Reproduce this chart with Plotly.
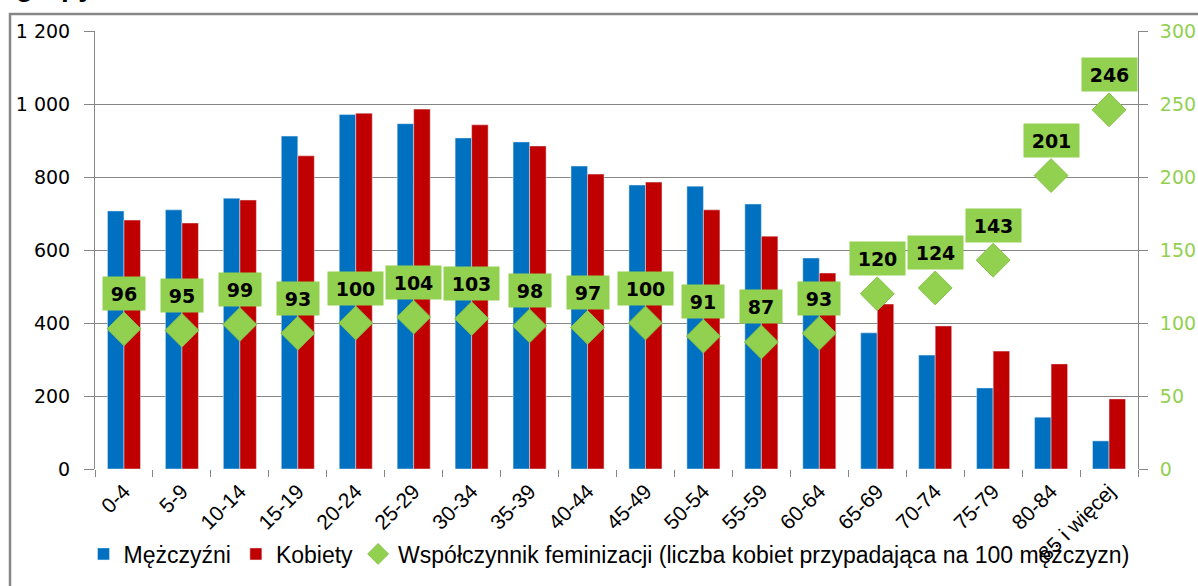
import plotly.graph_objects as go

# grupy wieku
grupy = ["0-4", "5-9", "10-14", "15-19", "20-24", "25-29", "30-34", "35-39", "40-44",
         "45-49", "50-54", "55-59", "60-64", "65-69", "70-74", "75-79", "80-84", "85 i więcej"]

# liczba ludności (oś lewa)
mezczyzni = [707, 710, 742, 912, 971, 946, 907, 896, 830, 778, 775, 726, 578, 373, 312, 222, 142, 77]
kobiety = [682, 674, 737, 858, 975, 986, 943, 885, 808, 786, 710, 638, 537, 452, 392, 323, 288, 192]

# współczynnik feminizacji (oś prawa)
feminizacja = [96, 95, 99, 93, 100, 104, 103, 98, 97, 100, 91, 87, 93, 120, 124, 143, 201, 246]

NIEBIESKI = "#0070C0"
CZERWONY = "#C00000"
ZIELONY = "#92D050"
SZARY = "#868686"
FONT_OSI = "DejaVu Sans"
FONT_TXT = "Liberation Sans"

fig = go.Figure()

fig.add_trace(go.Bar(x=grupy, y=mezczyzni, name="Mężczyźni", marker=dict(color=NIEBIESKI)))
fig.add_trace(go.Bar(x=grupy, y=kobiety, name="Kobiety", marker=dict(color=CZERWONY)))
fig.add_trace(go.Scatter(
    x=grupy, y=feminizacja, yaxis="y2", mode="markers",
    name="Współczynnik feminizacji (liczba kobiet przypadająca na 100 mężczyzn)",
    marker=dict(symbol="diamond", size=26, color=ZIELONY, line=dict(color="#86C246", width=1)),
))

# etykiety w zielonych ramkach nad punktami
for g, v in zip(grupy, feminizacja):
    tekst = str(v)
    fig.add_annotation(
        x=g, y=v, xref="x", yref="y2", text="<b>%s</b>" % tekst, showarrow=False,
        yshift=35, bgcolor=ZIELONY, borderpad=0, width=13 * len(tekst) + 16, height=33,
        font=dict(family=FONT_OSI, size=19, color="black"),
    )

# ucięty tytuł u góry (widoczne tylko dolne końcówki liter)
fig.add_annotation(
    x=(14 - 95) / 1043, y=(469 - 4) / 438, xref="paper", yref="paper",
    xanchor="left", yanchor="bottom", showarrow=False, text="<b>grupy wieku</b>",
    font=dict(family="Liberation Sans", size=28, color="black"),
)

# ramka wykresu (częściowo poza kadrem)
fig.add_shape(
    type="rect", xref="paper", yref="paper",
    x0=(10 - 95) / 1043, x1=1.5, y0=-1.0, y1=(469 - 14) / 438,
    line=dict(color=SZARY, width=2.5), fillcolor="rgba(0,0,0,0)", layer="below",
)

fig.update_layout(
    width=1198, height=586,
    margin=dict(l=95, r=60, t=31, b=117, autoexpand=False),
    plot_bgcolor="white", paper_bgcolor="white",
    barmode="group", bargap=0.43, bargroupgap=0,
    showlegend=True,
    legend=dict(
        orientation="h", x=-0.011, y=-0.194, xanchor="left", yanchor="middle",
        font=dict(family=FONT_TXT, size=23, color="black"),
        itemwidth=30, bgcolor="rgba(0,0,0,0)",
    ),
    xaxis=dict(
        range=[-0.5, len(grupy) - 0.5],
        showline=False, showgrid=False, ticks="outside", tickson="boundaries",
        ticklen=7, tickcolor=SZARY, tickangle=-45, automargin=False,
        ticklabelstandoff=5,
        tickfont=dict(family=FONT_TXT, size=21, color="black"),
    ),
    yaxis=dict(
        range=[0, 1200], tickvals=[0, 200, 400, 600, 800, 1000, 1200],
        ticktext=["0", "200", "400", "600", "800", "1 000", "1 200"],
        showline=True, linecolor=SZARY, linewidth=1, automargin=False,
        showgrid=True, gridcolor=SZARY, gridwidth=1, zeroline=False,
        ticks="outside", ticklen=10, tickcolor=SZARY, ticklabelstandoff=10,
        tickfont=dict(family=FONT_OSI, size=19, color="black"),
    ),
    yaxis2=dict(
        range=[0, 300], tickvals=[0, 50, 100, 150, 200, 250, 300],
        overlaying="y", side="right", automargin=False,
        showline=True, linecolor=SZARY, linewidth=1,
        showgrid=False, zeroline=False,
        ticks="outside", ticklen=9, tickcolor=SZARY, ticklabelstandoff=8,
        tickfont=dict(family=FONT_OSI, size=19, color=ZIELONY),
    ),
)

fig.write_html("out.html", config={"displayModeBar": False},
               post_script="document.body.style.margin='0';")
